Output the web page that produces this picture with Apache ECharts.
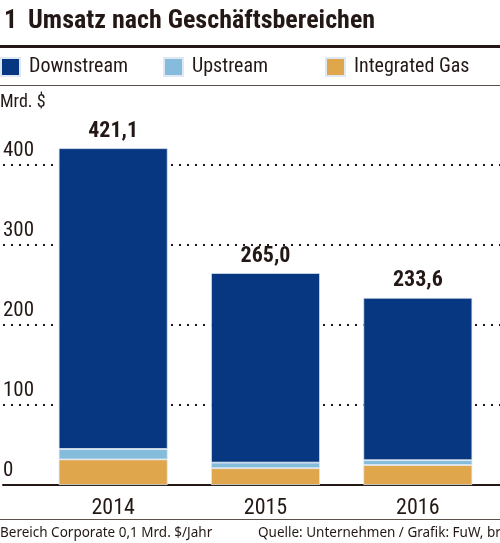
<!DOCTYPE html>
<html>
<head>
<meta charset="utf-8">
<script src="https://cdn.jsdelivr.net/npm/echarts@6/dist/echarts.min.js"></script>
<style>
  html, body { margin: 0; padding: 0; background: #fff; }
  #chart { width: 500px; height: 543px; }
</style>
</head>
<body>
<div id="chart"></div>
<script>
const years = ['2014', '2015', '2016']
const downstream = [376, 237, 203]
const upstream = [13, 7, 6]
const integratedGas = [32, 21, 25]
const totals = [421.1, 265.0, 233.6]
const yTicks = [0, 100, 200, 300, 400]

const ink = '#231815'
const narrow = "'Roboto Condensed', 'Open Sans', sans-serif"
const plain = "'Noto Sans', 'Liberation Sans', sans-serif"

const chart = echarts.init(document.getElementById('chart'))

function legendFor(name, left) {
  return {
    data: [name],
    left: left,
    top: 57,
    padding: 0,
    icon: 'rect',
    itemWidth: 19,
    itemHeight: 18,
    selectedMode: false,
    textStyle: { fontFamily: narrow, fontSize: 20, color: ink, padding: [0, 0, 0, 4] },
  }
}

function segment(name, data, color, withTotal) {
  const s = {
    name: name,
    type: 'bar',
    stack: 'umsatz',
    xAxisIndex: 1,
    yAxisIndex: 1,
    data: data,
    barWidth: 109,
    clip: false,
    itemStyle: { color: color, borderColor: '#dfe8f2', borderWidth: 0.8 },
  }
  if (withTotal) {
    s.label = {
      show: true,
      position: 'top',
      distance: 6,
      fontFamily: narrow,
      fontWeight: 'bold',
      fontSize: 22,
      color: ink,
      formatter: (p) => totals[p.dataIndex].toFixed(1).replace('.', ','),
    }
  }
  return s
}

const option = {
  animation: false,
  title: [
    {
      text: '{n|1}{b|Umsatz nach Geschäftsbereichen}',
      left: 4,
      top: 8,
      padding: 0,
      textStyle: {
        rich: {
          n: { fontFamily: narrow, fontSize: 26, color: ink, width: 24 },
          b: { fontFamily: narrow, fontSize: 26, fontWeight: 'bold', color: ink },
        },
      },
    },
    {
      text: 'Mrd. $',
      left: 0,
      top: 93,
      padding: 0,
      textStyle: { fontFamily: narrow, fontSize: 18, fontWeight: 'normal', color: ink },
    },
    {
      text: 'Bereich Corporate 0,1 Mrd. $/Jahr',
      left: 0,
      top: 526,
      padding: 0,
      textStyle: { fontFamily: plain, fontSize: 13.5, fontWeight: 'normal', color: ink },
    },
    {
      text: 'Quelle: Unternehmen / Grafik: FuW, br',
      left: 258,
      top: 526,
      padding: 0,
      textStyle: { fontFamily: plain, fontSize: 13.5, fontWeight: 'normal', color: ink },
    },
  ],
  legend: [
    legendFor('Downstream', 0),
    legendFor('Upstream', 163),
    legendFor('Integrated Gas', 325),
  ],
  graphic: [
    { type: 'line', shape: { x1: 0, y1: 46.5, x2: 500, y2: 46.5 }, style: { stroke: ink, lineWidth: 3 } },
    { type: 'line', shape: { x1: 0, y1: 85.5, x2: 500, y2: 85.5 }, style: { stroke: '#5b504b', lineWidth: 1 } },
    { type: 'line', shape: { x1: 0, y1: 519.5, x2: 500, y2: 519.5 }, style: { stroke: '#5b504b', lineWidth: 1 } },
  ],
  grid: [
    { left: 0, right: 0, top: 165, bottom: 58 },
    { left: 37, right: 6, top: 165, bottom: 58 },
  ],
  xAxis: [
    {
      gridIndex: 0,
      type: 'value',
      min: 0,
      max: 1,
      axisLine: { show: true, lineStyle: { color: ink, width: 2 } },
      axisTick: { show: false },
      axisLabel: { show: false },
      splitLine: { show: false },
    },
    {
      gridIndex: 1,
      type: 'category',
      data: years,
      axisLine: { show: false },
      axisTick: { show: false },
      axisLabel: { fontFamily: narrow, fontSize: 22, color: ink, margin: 12 },
    },
  ],
  yAxis: [
    {
      gridIndex: 0,
      type: 'value',
      min: yTicks[0],
      max: yTicks[yTicks.length - 1],
      interval: 100,
      axisLine: { show: false },
      axisTick: { show: false },
      axisLabel: {
        inside: true,
        margin: 0,
        align: 'left',
        verticalAlign: 'bottom',
        padding: [0, 0, 4, 0],
        fontFamily: narrow,
        fontSize: 21,
        color: ink,
        formatter: (v) => (yTicks.includes(v) ? String(v) : ''),
      },
      splitLine: { show: true, lineStyle: { color: ink, width: 2, type: [2, 6] } },
    },
    {
      gridIndex: 1,
      type: 'value',
      min: yTicks[0],
      max: yTicks[yTicks.length - 1],
      show: false,
      splitLine: { show: false },
    },
  ],
  series: [
    segment('Integrated Gas', integratedGas, '#e0a64c', false),
    segment('Upstream', upstream, '#85bcdc', false),
    segment('Downstream', downstream, '#063780', true),
  ],
}

chart.setOption(option)
</script>
</body>
</html>
